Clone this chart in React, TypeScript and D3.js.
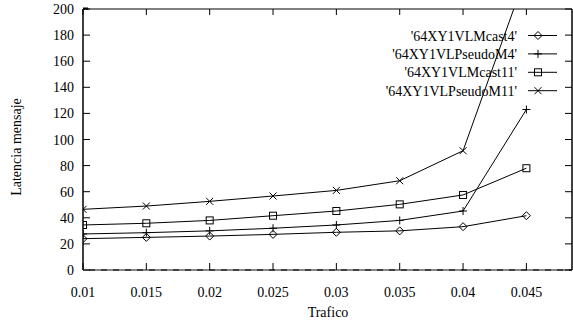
import React from 'react';
import * as d3 from 'd3';

const trafico = [0.01, 0.015, 0.02, 0.025, 0.03, 0.035, 0.04, 0.045];
const mcast4 = [24, 25, 26, 27.3, 28.9, 30, 33.2, 41.6];
const pseudoM4 = [27.6, 28.6, 30, 32, 34.5, 38, 45.2, 123];
const mcast11 = [34.5, 35.8, 38, 41.6, 45.2, 50.3, 57.5, 78];
const pseudoM11 = [46.5, 49, 52.6, 56.7, 61, 68.4, 91.4, 227];
const xTicks = [0.01, 0.015, 0.02, 0.025, 0.03, 0.035, 0.04, 0.045];
const yTicks = [0, 20, 40, 60, 80, 100, 120, 140, 160, 180, 200];

const series = [
  { name: "'64XY1VLMcast4'", values: mcast4, marker: 'diamond' },
  { name: "'64XY1VLPseudoM4'", values: pseudoM4, marker: 'plus' },
  { name: "'64XY1VLMcast11'", values: mcast11, marker: 'square' },
  { name: "'64XY1VLPseudoM11'", values: pseudoM11, marker: 'cross' },
];

const W = 573;
const H = 322;
const left = 83;
const right = 572;
const top = 9;
const bottom = 270;
const font = 'Liberation Serif, Times New Roman, serif';

function Marker({ type, x, y }: { type: string; x: number; y: number }) {
  const s = 4;
  if (type === 'diamond')
    return <path d={`M${x},${y - s}L${x + s},${y}L${x},${y + s}L${x - s},${y}Z`} fill="none" stroke="#000" />;
  if (type === 'plus')
    return <path d={`M${x - s},${y}H${x + s}M${x},${y - s}V${y + s}`} stroke="#000" />;
  if (type === 'square')
    return <rect x={x - 3.5} y={y - 3.5} width={7} height={7} fill="none" stroke="#000" />;
  return <path d={`M${x - 3.5},${y - 3.5}L${x + 3.5},${y + 3.5}M${x - 3.5},${y + 3.5}L${x + 3.5},${y - 3.5}`} stroke="#000" />;
}

export default function App() {
  const x = d3.scaleLinear().domain([0.01, 0.0486]).range([left, right]);
  const y = d3.scaleLinear().domain([0, 200]).range([bottom, top]);
  const line = d3
    .line<number>()
    .x((d, i) => x(trafico[i]))
    .y((d) => y(d));

  return (
    <svg width={W} height={H} style={{ position: 'absolute', left: 0, top: 0 }}>
      <defs>
        <clipPath id="plot">
          <rect x={left} y={top} width={right - left} height={bottom - top} />
        </clipPath>
      </defs>
      <rect width={W} height={H} fill="#fff" />
      {/* borders */}
      <line x1={left} y1={top} x2={right} y2={top} stroke="#808080" strokeWidth={2} />
      <line x1={left} y1={top} x2={left} y2={bottom} stroke="#000" strokeWidth={1.5} />
      <line x1={right} y1={top} x2={right} y2={bottom} stroke="#000" strokeWidth={1.5} />
      <line x1={left} y1={bottom} x2={right} y2={bottom} stroke="#000" strokeWidth={1.5} />
      <line x1={left} y1={bottom} x2={right} y2={bottom} stroke="#888" strokeWidth={2} strokeDasharray="6,6" />
      <line x1={left} y1={top - 0.5} x2={left + 5} y2={top - 0.5} stroke="#000" strokeWidth={2} />
      {/* y ticks */}
      {yTicks.map((t) => (
        <g key={t}>
          <line x1={left} x2={left + 7} y1={y(t)} y2={y(t)} stroke="#000" />
          <line x1={right - 7} x2={right} y1={y(t)} y2={y(t)} stroke="#000" />
          <text x={74} y={y(t) + 5} textAnchor="end" fontFamily={font} fontSize={14}>
            {t}
          </text>
        </g>
      ))}
      {/* x ticks */}
      {xTicks.map((t) => (
        <g key={t}>
          <line x1={x(t)} x2={x(t)} y1={bottom} y2={bottom - 7} stroke="#000" />
          <line x1={x(t)} x2={x(t)} y1={top} y2={top + 6} stroke="#000" />
          <text x={x(t)} y={297} textAnchor="middle" fontFamily={font} fontSize={14}>
            {t}
          </text>
        </g>
      ))}
      {/* series */}
      <g clipPath="url(#plot)">
        {series.map((s) => (
          <g key={s.name}>
            <path d={line(s.values) || ''} fill="none" stroke="#000" strokeWidth={1} />
            {s.values.map((v, i) => (
              <Marker key={i} type={s.marker} x={x(trafico[i])} y={y(v)} />
            ))}
          </g>
        ))}
      </g>
      {/* legend */}
      {series.map((s, i) => {
        const ly = 35.5 + i * 18.4;
        return (
          <g key={s.name}>
            <text x={517} y={ly + 5} textAnchor="end" fontFamily={font} fontSize={14}>
              {s.name}
            </text>
            <line x1={528} x2={557} y1={ly} y2={ly} stroke="#000" />
            <Marker type={s.marker} x={538} y={ly} />
          </g>
        );
      })}
      <text
        transform={`translate(21,147) rotate(-90)`}
        textAnchor="middle"
        fontFamily={font}
        fontSize={14}
      >
        Latencia mensaje
      </text>
      <text x={328} y={317} textAnchor="middle" fontFamily={font} fontSize={14}>
        Trafico
      </text>
    </svg>
  );
}
